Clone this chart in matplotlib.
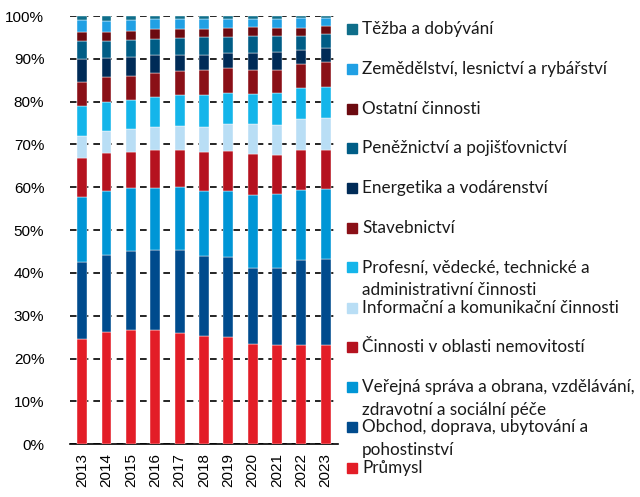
import numpy as np
import matplotlib.pyplot as plt
from matplotlib.patches import Rectangle
from matplotlib.ticker import FuncFormatter

years = ["2013", "2014", "2015", "2016", "2017", "2018", "2019", "2020", "2021", "2022", "2023"]

# shares in %, bottom of stack first
prumysl = [24.5, 26.2, 26.6, 26.7, 26.1, 25.2, 25.0, 23.4, 23.2, 23.2, 23.3]
obchod = [18.1, 18.1, 18.6, 18.6, 19.2, 18.8, 18.7, 17.7, 17.9, 19.9, 20.0]
verejna = [15.1, 14.9, 14.6, 14.6, 14.7, 15.2, 15.4, 17.0, 17.3, 16.2, 16.2]
nemovitosti = [9.1, 8.8, 8.5, 8.8, 8.7, 9.1, 9.3, 9.6, 9.1, 9.3, 9.2]
informacni = [5.1, 5.2, 5.3, 5.4, 5.6, 5.9, 6.5, 7.0, 7.1, 7.3, 7.6]
profesni = [7.1, 6.8, 6.9, 7.0, 7.2, 7.4, 7.1, 7.0, 7.4, 7.2, 7.1]
stavebnictvi = [5.7, 5.7, 5.6, 5.6, 5.6, 5.7, 5.8, 5.8, 5.4, 5.6, 5.8]
energetika = [5.2, 4.5, 4.4, 4.1, 3.9, 3.5, 3.6, 3.9, 4.2, 3.3, 3.4]
penez = [4.3, 3.9, 3.9, 3.9, 3.8, 4.2, 3.7, 4.0, 3.8, 3.4, 3.1]
ostatni = [2.1, 2.2, 2.2, 2.2, 2.1, 2.0, 2.1, 2.0, 1.9, 1.9, 1.9]
zemedelstvi = [2.8, 2.6, 2.5, 2.4, 2.4, 2.4, 2.2, 2.0, 2.1, 2.2, 2.0]
tezba = [0.9, 1.1, 0.9, 0.7, 0.7, 0.6, 0.6, 0.6, 0.6, 0.5, 0.4]

series = [
    ("Průmysl", prumysl, "#e31d27"),
    ("Obchod, doprava, ubytování a\npohostinství", obchod, "#004b8d"),
    ("Veřejná správa a obrana, vzdělávání,\nzdravotní a sociální péče", verejna, "#0096d6"),
    ("Činnosti v oblasti nemovitostí", nemovitosti, "#b5121f"),
    ("Informační a komunikační činnosti", informacni, "#b9def5"),
    ("Profesní, vědecké, technické a\nadministrativní činnosti", profesni, "#14b5ea"),
    ("Stavebnictví", stavebnictvi, "#8a1017"),
    ("Energetika a vodárenství", energetika, "#002b57"),
    ("Peněžnictví a pojišťovnictví", penez, "#005d86"),
    ("Ostatní činnosti", ostatni, "#6c0a10"),
    ("Zemědělství, lesnictví a rybářství", zemedelstvi, "#20a0e4"),
    ("Těžba a dobývání", tezba, "#0f6e8a"),
]

# legend rows (pixel y of first line), bottom entry first
legend_y = [467.7, 426.7, 386.7, 347.3, 307.7, 267.3, 228.3, 187.7, 147.7, 109, 69, 29]

W, H = 640, 497
fig = plt.figure(figsize=(W / 100, H / 100), dpi=100)
ax = fig.add_axes([70 / W, 1 - 444.3 / H, 267.7 / W, 428.3 / H])

x = np.arange(len(years))
bottom = np.zeros(len(years))
for name, vals, col in series:
    v = np.array(vals)
    ax.bar(x, v, 0.41, bottom=bottom, color=col, edgecolor="white", linewidth=0.3, zorder=3)
    bottom += v

ax.set_xlim(-0.5, len(years) - 0.5)
ax.set_ylim(0, 100)
ax.set_yticks(np.arange(0, 101, 10))
ax.yaxis.set_major_formatter(FuncFormatter(lambda v, p: f"{v:.0f}%"))
ax.set_xticks(x)
ax.set_xticklabels(years, rotation=90)
ax.grid(axis="y", color="black", linestyle=(0, (4, 3)), linewidth=1.2, zorder=0)
for s in ["left", "right", "top"]:
    ax.spines[s].set_visible(False)
ax.spines["bottom"].set_color("black")
ax.spines["bottom"].set_linewidth(1.2)
ax.tick_params(axis="y", length=0, pad=18.5, labelsize=11)
ax.tick_params(axis="x", length=0, pad=6, labelsize=11)
for lab in ax.get_xticklabels() + ax.get_yticklabels():
    lab.set_fontfamily("Liberation Sans")

for (name, vals, col), yp in zip(series, legend_y):
    fig.patches.append(Rectangle((347 / W, 1 - (yp + 5) / H), 10 / W, 10 / H,
                                 transform=fig.transFigure, color=col))
    fig.text(362 / W, 1 - (yp - 8) / H, name, va="top", ha="left", fontsize=12.3,
             family="Lato", linespacing=1.55, color="#1a1a1a",
             transform=fig.transFigure)

fig.savefig("out.png", dpi=100)
